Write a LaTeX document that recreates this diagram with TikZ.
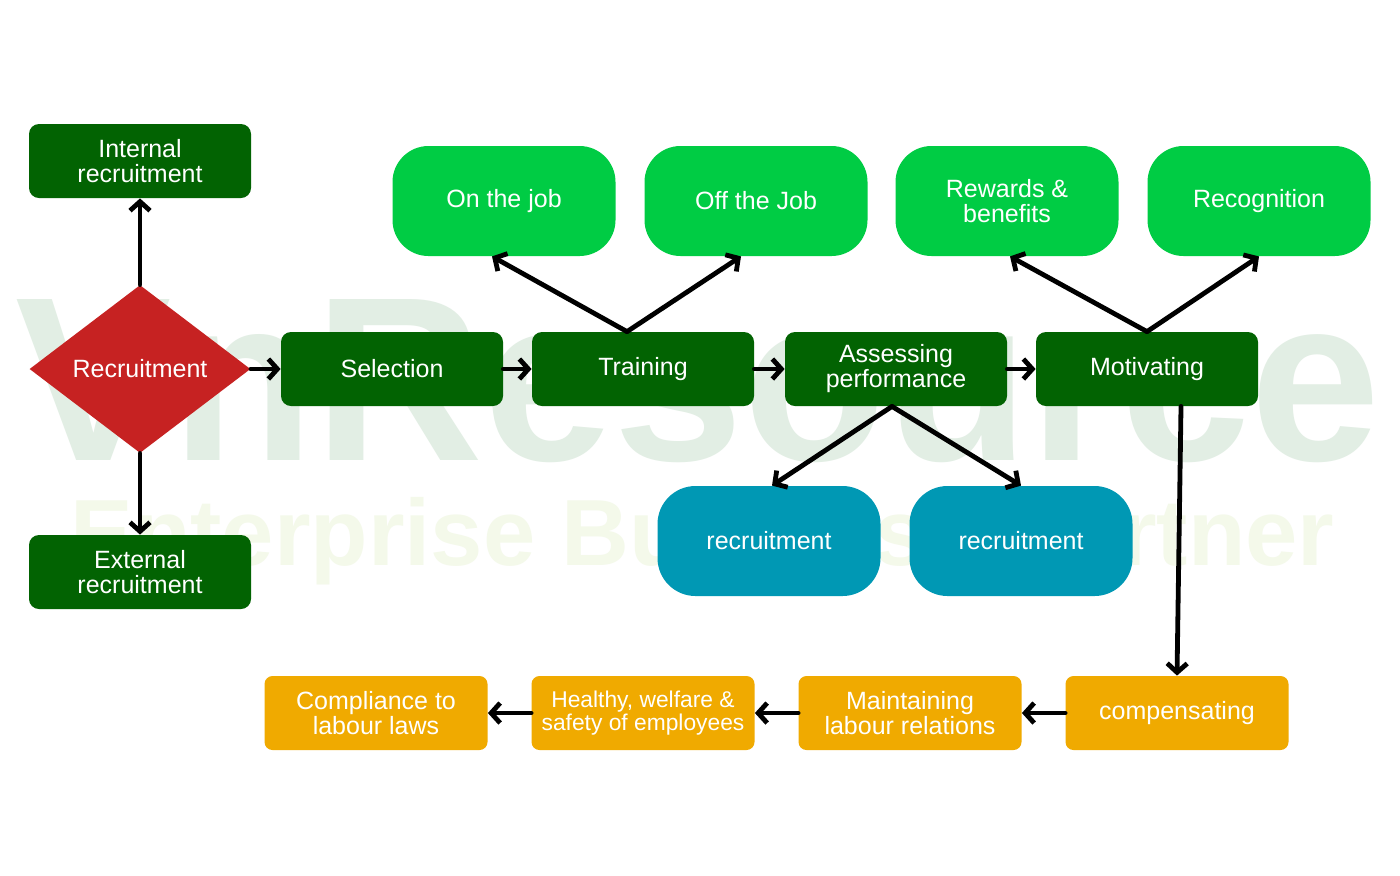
\documentclass[tikz,border=0pt]{standalone}
\usepackage{fontspec}
\setmainfont{Liberation Sans}
\usetikzlibrary{shapes.geometric,arrows.meta,calc}
\definecolor{dg}{RGB}{2,99,2}
\definecolor{lg}{RGB}{0,204,68}
\definecolor{bl}{RGB}{0,152,180}
\definecolor{og}{RGB}{240,170,0}
\definecolor{rd}{RGB}{198,34,34}
\definecolor{wma}{RGB}{226,238,228}
\definecolor{wmb}{RGB}{244,249,234}
\begin{document}
\begin{tikzpicture}[x=0.5pt,y=-0.5pt,
 base/.style={text=white, align=center, inner sep=0pt, font=\fontsize{12.5}{12.5}\selectfont},
 dbox/.style={base, fill=dg, rounded corners=5pt, minimum width=111pt, minimum height=37pt},
 gbox/.style={base, fill=lg, rounded corners=18pt, minimum width=111.5pt, minimum height=55pt},
 bbox/.style={base, fill=bl, rounded corners=19pt, minimum width=111.5pt, minimum height=55pt},
 obox/.style={base, fill=og, rounded corners=4pt, minimum width=111.5pt, minimum height=37pt},
 arr/.style={-{Straight Barb[length=4.5pt,width=10pt]}, line width=2.4pt, black, line cap=round},
]
\useasboundingbox (0,0) rectangle (1400,875);
\fill[white] (0,0) rectangle (1400,875);
% watermark
\node[anchor=base west, text=wma, inner sep=0pt, font=\fontsize{117}{117}\selectfont\bfseries] (wmA) at (15,460) {VnResource};
\node[anchor=base west, text=wmb, inner sep=0pt, font=\fontsize{47}{47}\selectfont\bfseries] (wmB) at (70,565) {Enterprise Business Partner};
% nodes
\node[dbox] (int) at (140,161) {Internal\\recruitment};
\node[base, shape=diamond, fill=rd, aspect=1.3, minimum width=110.5pt, minimum height=84pt] (rec) at (140,369) {Recruitment};
\node[dbox] (ext) at (140,572) {External\\recruitment};
\node[dbox] (sel) at (392,369) {Selection};
\node[dbox] (tra) at (643,369) {Training};
\node[dbox] (ass) at (896,369) {Assessing\\performance};
\node[dbox] (mot) at (1147,369) {Motivating};
\node[gbox] (otj) at (504,201) {On the job};
\node[gbox] (ofj) at (756,201) {Off the Job};
\node[gbox] (rew) at (1007,201) {Rewards \&\\benefits};
\node[gbox] (rcg) at (1259,201) {Recognition};
\node[bbox] (bla) at (769,541) {recruitment};
\node[bbox] (blb) at (1021,541) {recruitment};
\node[obox] (cmp) at (376,713) {Compliance to\\labour laws};
\node[obox, font=\fontsize{11.4}{10.6}\selectfont] (hea) at (643,713) {Healthy, welfare \&\\safety of employees};
\node[obox] (mai) at (910,713) {Maintaining\\labour relations};
\node[obox] (com) at (1177,713) {compensating};
% connectors
\draw[arr] (rec.north) -- (int.south);
\draw[arr] (rec.south) -- (ext.north);
\draw[arr] (rec.east) -- (sel.west);
\draw[arr] (sel.east) -- (tra.west);
\draw[arr] (tra.east) -- (ass.west);
\draw[arr] (ass.east) -- (mot.west);
\draw[arr] ([xshift=-8pt]tra.north) -- ([xshift=-6pt]otj.south);
\draw[arr] ([xshift=-8pt]tra.north) -- ([xshift=-7.5pt]ofj.south);
\draw[arr] (mot.north) -- ([xshift=1.5pt]rew.south);
\draw[arr] (mot.north) -- (rcg.south);
\draw[arr] ([xshift=-2pt]ass.south) -- ([xshift=1.5pt]bla.north);
\draw[arr] ([xshift=-2pt]ass.south) -- (blb.north);
\draw[arr] ([xshift=17pt]mot.south) -- (com.north);
\draw[arr] (com.west) -- (mai.east);
\draw[arr] (mai.west) -- (hea.east);
\draw[arr] (hea.west) -- (cmp.east);
\end{tikzpicture}
\end{document}
